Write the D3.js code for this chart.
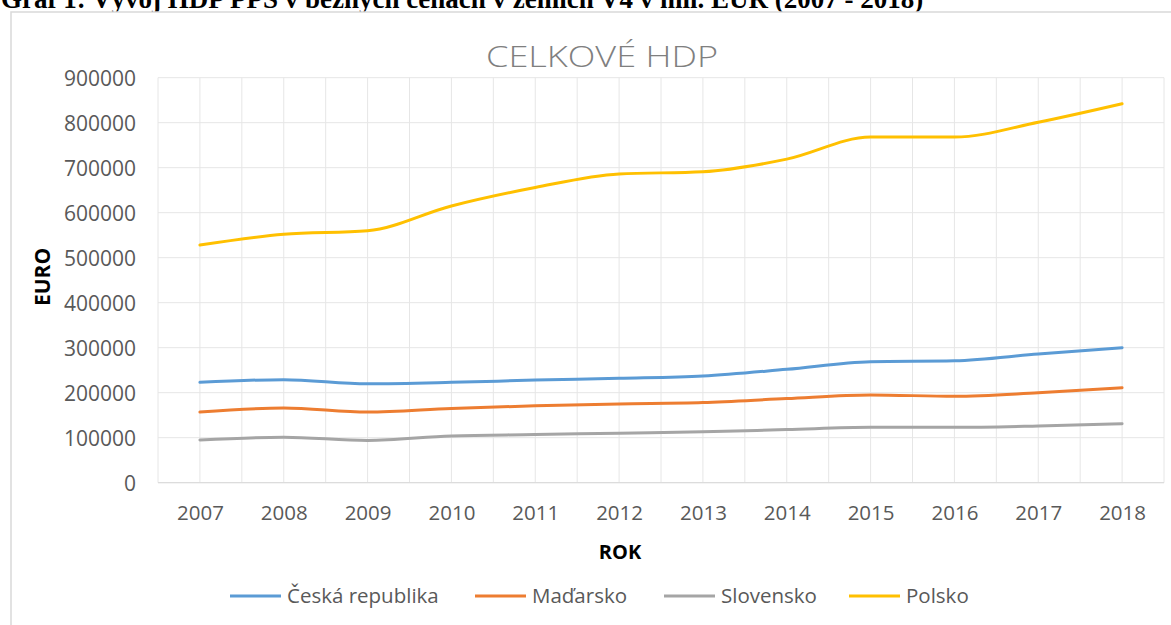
<!DOCTYPE html>
<html>
<head>
<meta charset="utf-8">
<script src="https://cdn.jsdelivr.net/npm/d3@7"></script>
<style>
  body { margin: 0; background: #fff; }
  svg { display: block; }
</style>
</head>
<body>
<svg id="chart" width="1171" height="625"></svg>
<script>
// roky a hodnoty (mil. EUR)
const years = ["2007", "2008", "2009", "2010", "2011", "2012", "2013", "2014", "2015", "2016", "2017", "2018"];
const cesko = [223000, 229000, 220000, 223000, 228000, 232000, 237000, 252000, 269000, 271000, 286000, 300000];
const madarsko = [157000, 166000, 157000, 165000, 171000, 175000, 178000, 187000, 195000, 192000, 200000, 211000];
const slovensko = [95000, 101000, 94000, 104000, 107000, 110000, 113000, 118000, 123000, 123000, 126000, 131000];
const polsko = [528000, 552000, 560000, 615000, 656000, 686000, 691000, 719000, 768000, 768000, 801000, 842000];
const seriesNames = ["Česká republika", "Maďarsko", "Slovensko", "Polsko"];
const seriesColors = ["#5b9bd5", "#ed7d31", "#a5a5a5", "#ffc000"];
const yTicks = [0, 100000, 200000, 300000, 400000, 500000, 600000, 700000, 800000, 900000];

const series = [cesko, madarsko, slovensko, polsko].map((v, i) => ({
    name: seriesNames[i], color: seriesColors[i], values: v
}));

const svg = d3.select("#chart");
const font = "'Open Sans', sans-serif";

// popisek nad grafem (v predloze oriznuty hornim okrajem)
svg.append("text")
    .attr("x", 1).attr("y", 7.5)
    .attr("font-family", "'Liberation Serif', serif")
    .attr("font-weight", "bold")
    .attr("font-size", 27)
    .attr("fill", "#000")
    .text("Graf 1: Vývoj HDP PPS v běžných cenách v zemích V4 v mil. EUR (2007 - 2018)");

// ramecek grafu
svg.append("rect")
    .attr("x", 11).attr("y", 12)
    .attr("width", 1200).attr("height", 700)
    .attr("fill", "#fff")
    .attr("stroke", "#d9d9d9").attr("stroke-width", 1.5);

const plotLeft = 158, plotRight = 1164, plotTop = 77.7, plotBottom = 482.7;

let x = d3.scalePoint().domain(years).range([plotLeft, plotRight]).padding(0.5);
let y = d3.scaleLinear().domain([0, 900000]).range([plotBottom, plotTop]);

// mrizka
let grid = svg.append("g");
grid.selectAll(".hgrid").data(yTicks).join("line")
    .attr("x1", plotLeft).attr("x2", plotRight)
    .attr("y1", d => y(d)).attr("y2", d => y(d))
    .attr("stroke", "#e6e6e6").attr("stroke-width", 1);

let vLines = [];
years.forEach(yr => { vLines.push(x(yr) - x.step() / 2); vLines.push(x(yr)); });
vLines.push(plotRight);
grid.selectAll(".vgrid").data(vLines).join("line")
    .attr("x1", d => d).attr("x2", d => d)
    .attr("y1", plotTop).attr("y2", plotBottom)
    .attr("stroke", "#e6e6e6").attr("stroke-width", 1);

// osa x (zakladni cara)
svg.append("line")
    .attr("x1", plotLeft).attr("x2", plotRight)
    .attr("y1", plotBottom).attr("y2", plotBottom)
    .attr("stroke", "#d9d9d9").attr("stroke-width", 1);

// popisky osy y
let yAxis = svg.append("g")
    .attr("transform", `translate(${plotLeft - 22},0)`)
    .call(d3.axisLeft(y).tickValues(yTicks).tickSize(0).tickFormat(d3.format("d")));
yAxis.select(".domain").remove();
yAxis.selectAll("text")
    .attr("font-family", font).attr("font-size", 21).attr("fill", "#595959")
    .attr("dy", "0.35em").attr("x", 0);

// popisky osy x
let xAxis = svg.append("g")
    .attr("transform", `translate(0,${plotBottom + 20})`)
    .call(d3.axisBottom(x).tickSize(0));
xAxis.select(".domain").remove();
xAxis.selectAll("text")
    .attr("font-family", font).attr("font-size", 20.5).attr("fill", "#595959")
    .attr("dy", "0.71em");

// nazev
svg.append("text")
    .attr("x", 486).attr("y", 67)
    .attr("textLength", 232).attr("lengthAdjust", "spacingAndGlyphs")
    .attr("font-family", font).attr("font-weight", 300)
    .attr("font-size", 29).attr("fill", "#7f7f7f")
    .text("CELKOVÉ HDP");

// nazvy os
svg.append("text")
    .attr("transform", "translate(43,277) rotate(-90)")
    .attr("text-anchor", "middle").attr("dy", "0.35em")
    .attr("font-family", font).attr("font-weight", "bold")
    .attr("font-size", 21).attr("fill", "#000")
    .text("EURO");

svg.append("text")
    .attr("x", 620).attr("y", 552)
    .attr("text-anchor", "middle").attr("dy", "0.35em")
    .attr("font-family", font).attr("font-weight", "bold")
    .attr("font-size", 20).attr("fill", "#000")
    .text("ROK");

// cary
let line = d3.line()
    .x((d, i) => x(years[i]))
    .y(d => y(d))
    .curve(d3.curveMonotoneX);

svg.append("g").selectAll("path").data(series).join("path")
    .attr("d", d => line(d.values))
    .attr("fill", "none")
    .attr("stroke", d => d.color)
    .attr("stroke-width", 3)
    .attr("stroke-linecap", "round")
    .attr("stroke-linejoin", "round");

// legenda
const legendX = [230, 475, 664, 849];
let legend = svg.append("g").selectAll("g").data(series).join("g")
    .attr("transform", (d, i) => `translate(${legendX[i]},596)`);
legend.append("line")
    .attr("x1", 0).attr("x2", 51)
    .attr("stroke", d => d.color).attr("stroke-width", 3);
legend.append("text")
    .attr("x", 57).attr("dy", "0.35em")
    .attr("font-family", font).attr("font-size", 20.5).attr("fill", "#595959")
    .text(d => d.name);
</script>
</body>
</html>
